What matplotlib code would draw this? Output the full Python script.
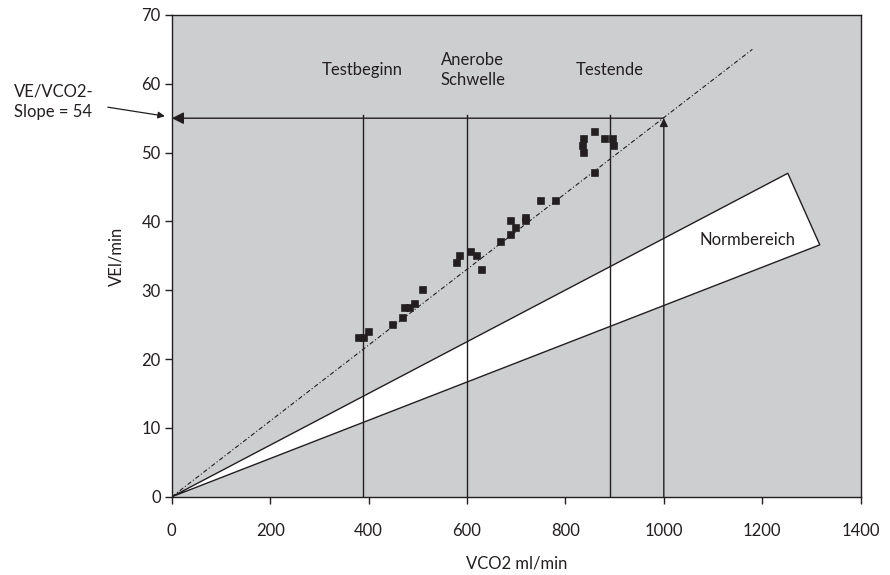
import matplotlib.pyplot as plt
from matplotlib.patches import Polygon

# measured points (VCO2 ml/min, VE l/min)
vco2 = [380, 390, 400, 450, 470, 475, 485, 495, 510,
        580, 585, 608, 620, 630, 670, 690, 690, 700, 720, 720,
        750, 780, 836, 838, 838, 860, 860, 880, 897, 898]
ve = [23, 23, 24, 25, 26, 27.5, 27.5, 28, 30,
      34, 35, 35.5, 35, 33, 37, 38, 40, 39, 40.5, 40,
      43, 43, 51, 52, 50, 53, 47, 52, 52, 51]

slope_line_x = [0, 1180]
slope_line_y = [0, 65]

norm_x = [0, 1252, 1317]
norm_y = [0, 47, 36.6]

markers = ["Testbeginn", "Anerobe\nSchwelle", "Testende"]
marker_x = [388, 600, 890]
slope_x = 1000
slope_val = 55

dark = '#231f20'
plt.rcParams['font.family'] = ['Lato', 'DejaVu Sans']
plt.rcParams['font.size'] = 12

fig = plt.figure(figsize=(8.9, 5.75), dpi=100)
ax = fig.add_axes([0.193, 0.136, 0.774, 0.838])
ax.set_facecolor('#cdced0')

ax.add_patch(Polygon(list(zip(norm_x, norm_y)), closed=True, facecolor='white',
                     edgecolor=dark, lw=1.0, zorder=2))
ax.text(1170, 37.3, "Normbereich", ha='center', va='center', color=dark, zorder=5)

ax.plot(slope_line_x, slope_line_y, color=dark, lw=0.8, ls=(0, (4, 2, 1, 2)), zorder=3)

for name, xv in zip(markers, marker_x):
    ax.plot([xv, xv], [0, 55.5], color=dark, lw=1.0, zorder=3)
    ax.text(xv + (12 if '\n' in name else 0), 62, name, ha='center', va='center',
            color=dark, linespacing=1.3)

# vertical arrow at 1000 and horizontal arrow back to the y axis
ax.annotate('', xy=(slope_x, slope_val), xytext=(slope_x, 0),
            arrowprops=dict(arrowstyle='-|>', color=dark, lw=1.0,
                            mutation_scale=12, shrinkA=0, shrinkB=0), zorder=3)
ax.annotate('', xy=(0, slope_val), xytext=(slope_x, slope_val),
            arrowprops=dict(arrowstyle='-|>', color=dark, lw=1.0,
                            mutation_scale=18, shrinkA=0, shrinkB=0), zorder=3)

ax.plot(vco2, ve, 's', color=dark, ms=4.5, mec=dark, mew=1.2, zorder=4)

ax.text(-321, 57.4, "VE/VCO2-\nSlope = 54", ha='left', va='center', color=dark,
        linespacing=1.4, clip_on=False)
ax.annotate('', xy=(-14, 55.3), xytext=(-130, 56.6), annotation_clip=False,
            arrowprops=dict(arrowstyle='-|>', color=dark, lw=0.9,
                            mutation_scale=10, shrinkA=0, shrinkB=0))

ax.set_xlim(0, 1400)
ax.set_ylim(0, 70)
ax.set_xticks(range(0, 1401, 200))
ax.set_yticks(range(0, 71, 10))
ax.tick_params(direction='out', length=5, width=1, colors=dark, pad=14)
ax.tick_params(axis='y', pad=3)
for s in ax.spines.values():
    s.set_color(dark)
    s.set_linewidth(1.0)
ax.set_xlabel("VCO2 ml/min", color=dark, labelpad=12)
ax.set_ylabel("VEl/min", color=dark, labelpad=12)

plt.savefig('out.png', dpi=100)
